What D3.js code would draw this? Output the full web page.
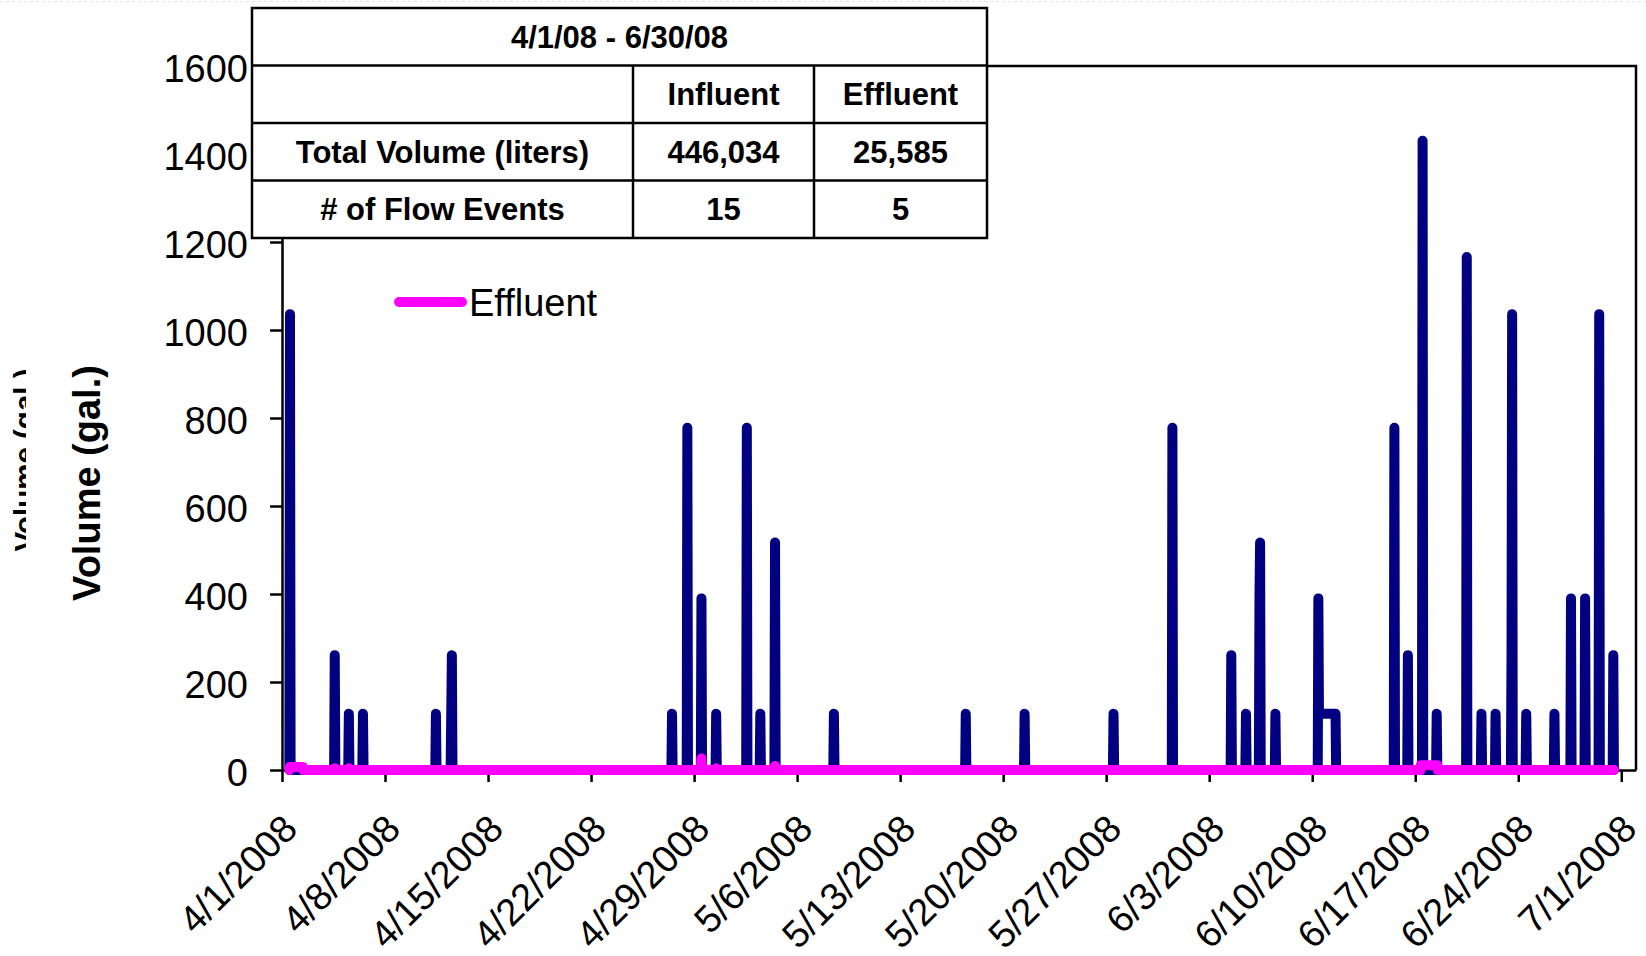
<!DOCTYPE html>
<html>
<head>
<meta charset="utf-8">
<script src="https://cdn.jsdelivr.net/npm/d3@7"></script>
<style>
  body { margin: 0; background: #fff; }
  svg { display: block; font-family: "Liberation Sans", Arial, sans-serif; }
</style>
</head>
<body>
<div class="chart"></div>
<script>
// influent flow events (gal.), each one is a short burst of readings
var influentEvents = [
  [["2008-04-01 13:00", 1036]],
  [["2008-04-04 14:00", 261]],
  [["2008-04-05 13:00", 128]],
  [["2008-04-06 12:00", 128]],
  [["2008-04-11 11:00", 128]],
  [["2008-04-12 12:00", 128], ["2008-04-12 13:00", 261]],
  [["2008-04-27 12:00", 128]],
  [["2008-04-28 13:00", 778]],
  [["2008-04-29 12:00", 390]],
  [["2008-04-30 12:00", 128]],
  [["2008-05-02 14:00", 778]],
  [["2008-05-03 12:00", 128]],
  [["2008-05-04 12:00", 517]],
  [["2008-05-08 12:00", 128]],
  [["2008-05-17 11:00", 128]],
  [["2008-05-21 11:00", 128]],
  [["2008-05-27 12:00", 128]],
  [["2008-05-31 12:00", 778]],
  [["2008-06-04 12:00", 261]],
  [["2008-06-05 12:00", 128]],
  [["2008-06-06 10:00", 390], ["2008-06-06 11:00", 517]],
  [["2008-06-07 12:00", 128]],
  [["2008-06-10 10:00", 390], ["2008-06-10 11:00", 128], ["2008-06-11 14:00", 128]],
  [["2008-06-15 14:00", 778]],
  [["2008-06-16 12:00", 261]],
  [["2008-06-17 12:00", 1430]],
  [["2008-06-18 11:00", 128]],
  [["2008-06-20 12:00", 1166]],
  [["2008-06-21 12:00", 128]],
  [["2008-06-22 11:00", 128]],
  [["2008-06-23 13:00", 261], ["2008-06-23 14:00", 1036]],
  [["2008-06-24 13:00", 128]],
  [["2008-06-26 11:00", 128]],
  [["2008-06-27 14:00", 390]],
  [["2008-06-28 13:00", 390]],
  [["2008-06-29 12:00", 1036]],
  [["2008-06-30 11:00", 261]]
];

// effluent flow (gal.)
var effluentEvents = [
  [["2008-04-01 13:00", 7], ["2008-04-02 10:00", 7]],
  [["2008-04-04 14:00", 4]],
  [["2008-04-05 13:00", 4]],
  [["2008-04-29 12:00", 26]],
  [["2008-04-30 12:00", 4]],
  [["2008-05-04 12:00", 9]],
  [["2008-06-17 09:00", 11], ["2008-06-18 12:00", 11]]
];

var seriesStart = "2008-04-01 12:00";
var seriesEnd = "2008-06-30 12:00";

var xTickDates = ["2008-04-01", "2008-04-08", "2008-04-15", "2008-04-22", "2008-04-29",
  "2008-05-06", "2008-05-13", "2008-05-20", "2008-05-27", "2008-06-03",
  "2008-06-10", "2008-06-17", "2008-06-24", "2008-07-01"];
var yTicks = [0, 200, 400, 600, 800, 1000, 1200, 1400, 1600];

var tableTitle = "4/1/08 - 6/30/08";
var tableHeader = ["", "Influent", "Effluent"];
var tableRows = [
  ["Total Volume (liters)", "446,034", "25,585"],
  ["# of Flow Events", "15", "5"]
];

var svgWidth = 1646;
var svgHeight = 956;

var plot = { left: 282, right: 1636, top: 66, bottom: 770 };

var parseTime = d3.timeParse("%Y-%m-%d %H:%M");
var parseDay = d3.timeParse("%Y-%m-%d");
var hour = 3600 * 1000;

var svg = d3.select(".chart")
  .append("svg")
  .attr("width", svgWidth)
  .attr("height", svgHeight);

svg.append("rect")
  .attr("width", svgWidth)
  .attr("height", svgHeight)
  .attr("fill", "#fff");

// faint dotted edge along the top of the capture
svg.append("line")
  .attr("x1", 0).attr("x2", svgWidth)
  .attr("y1", 1.5).attr("y2", 1.5)
  .attr("stroke", "#e2e2e2")
  .attr("stroke-dasharray", "3,3");

var xScale = d3.scaleTime()
  .domain([new Date(2008, 3, 1), new Date(2008, 6, 2)])
  .range([plot.left, plot.right]);

var yScale = d3.scaleLinear()
  .domain([0, 1600])
  .range([plot.bottom, plot.top]);

// turn bursts into a line that sits on zero between events
function buildSeries(events) {
  var pts = [[parseTime(seriesStart), 0]];
  events.forEach(function(ev) {
    var first = parseTime(ev[0][0]);
    var last = parseTime(ev[ev.length - 1][0]);
    pts.push([new Date(first.getTime() - hour), 0]);
    ev.forEach(function(p) { pts.push([parseTime(p[0]), p[1]]); });
    pts.push([new Date(last.getTime() + hour), 0]);
  });
  pts.push([parseTime(seriesEnd), 0]);
  return pts;
}

var influent = buildSeries(influentEvents);
var effluent = buildSeries(effluentEvents);

// clipped label peeking in from the left edge
svg.append("clipPath")
  .attr("id", "ghostClip")
  .append("rect")
  .attr("x", 0).attr("y", 0)
  .attr("width", 26).attr("height", svgHeight);

svg.append("g")
  .attr("clip-path", "url(#ghostClip)")
  .append("text")
  .attr("transform", "translate(35, 460) rotate(-90)")
  .attr("text-anchor", "middle")
  .attr("font-size", "29.5px")
  .attr("font-weight", "bold")
  .text("Volume (gal.)");

// plot frame (top and right)
svg.append("path")
  .attr("d", `M${plot.left},${plot.top}H${plot.right}V${plot.bottom}`)
  .attr("fill", "none")
  .attr("stroke", "#000")
  .attr("stroke-width", 2.5);

var yAxis = svg.append("g")
  .attr("transform", `translate(${plot.left}, 0)`)
  .call(d3.axisLeft(yScale)
    .tickValues(yTicks)
    .tickFormat(d3.format("d"))
    .tickSize(12)
    .tickSizeOuter(0)
    .tickPadding(22));

yAxis.selectAll("text")
  .attr("font-size", "38px")
  .attr("font-family", "Liberation Sans, Arial, sans-serif")
  .attr("fill", "#000")
  .attr("dy", "0.4em");

var xAxis = svg.append("g")
  .attr("transform", `translate(0, ${plot.bottom})`)
  .call(d3.axisBottom(xScale)
    .tickValues(xTickDates.map(parseDay))
    .tickFormat(d3.timeFormat("%-m/%-d/%Y"))
    .tickSize(12)
    .tickSizeOuter(0));

xAxis.selectAll("text")
  .attr("font-size", "38px")
  .attr("font-family", "Liberation Sans, Arial, sans-serif")
  .attr("fill", "#000")
  .attr("x", 0)
  .attr("y", 0)
  .attr("dy", 0)
  .attr("transform", "translate(17, 61) rotate(-45)")
  .style("text-anchor", "end");

svg.selectAll(".domain, .tick line")
  .attr("stroke", "#000")
  .attr("stroke-width", 2.5);

var line = d3.line()
  .x(d => xScale(d[0]))
  .y(d => yScale(d[1]));

svg.append("path")
  .datum(influent)
  .attr("d", line)
  .attr("fill", "none")
  .attr("stroke", "#000080")
  .attr("stroke-width", 10)
  .attr("stroke-linejoin", "round")
  .attr("stroke-linecap", "round");

svg.append("path")
  .datum(effluent)
  .attr("d", line)
  .attr("fill", "none")
  .attr("stroke", "#ff00ff")
  .attr("stroke-width", 10)
  .attr("stroke-linejoin", "round")
  .attr("stroke-linecap", "round");

// legend
var legend = svg.append("g")
  .attr("transform", "translate(399, 302)");

legend.append("line")
  .attr("x1", 0).attr("x2", 63)
  .attr("y1", 0).attr("y2", 0)
  .attr("stroke", "#ff00ff")
  .attr("stroke-width", 10)
  .attr("stroke-linecap", "round");

legend.append("text")
  .attr("x", 70)
  .attr("y", 0)
  .attr("dy", "0.36em")
  .attr("font-size", "38px")
  .text("Effluent");

// summary table over the upper left of the plot
var table = { left: 252, right: 987, top: 8, bottom: 238 };
var colEdges = [table.left, 633, 814, table.right];
var rowEdges = [table.top, 65.5, 123, 180.5, table.bottom];

var tableGroup = svg.append("g")
  .attr("font-size", "31px")
  .attr("font-weight", "bold")
  .attr("text-anchor", "middle");

tableGroup.append("rect")
  .attr("x", table.left)
  .attr("y", table.top)
  .attr("width", table.right - table.left)
  .attr("height", table.bottom - table.top)
  .attr("fill", "#fff")
  .attr("stroke", "#000")
  .attr("stroke-width", 2.5);

rowEdges.slice(1, -1).forEach(function(yy) {
  tableGroup.append("line")
    .attr("x1", table.left).attr("x2", table.right)
    .attr("y1", yy).attr("y2", yy)
    .attr("stroke", "#000")
    .attr("stroke-width", 2.5);
});

colEdges.slice(1, -1).forEach(function(xx) {
  tableGroup.append("line")
    .attr("x1", xx).attr("x2", xx)
    .attr("y1", rowEdges[1]).attr("y2", table.bottom)
    .attr("stroke", "#000")
    .attr("stroke-width", 2.5);
});

tableGroup.append("text")
  .attr("x", (table.left + table.right) / 2)
  .attr("y", (rowEdges[0] + rowEdges[1]) / 2)
  .attr("dy", "0.36em")
  .text(tableTitle);

[tableHeader].concat(tableRows).forEach(function(row, r) {
  row.forEach(function(cell, c) {
    tableGroup.append("text")
      .attr("x", (colEdges[c] + colEdges[c + 1]) / 2)
      .attr("y", (rowEdges[r + 1] + rowEdges[r + 2]) / 2)
      .attr("dy", "0.36em")
      .text(cell);
  });
});

// axis title
svg.append("text")
  .attr("transform", "translate(100, 483) rotate(-90)")
  .attr("text-anchor", "middle")
  .attr("font-size", "38px")
  .attr("font-weight", "bold")
  .text("Volume (gal.)");
</script>
</body>
</html>
